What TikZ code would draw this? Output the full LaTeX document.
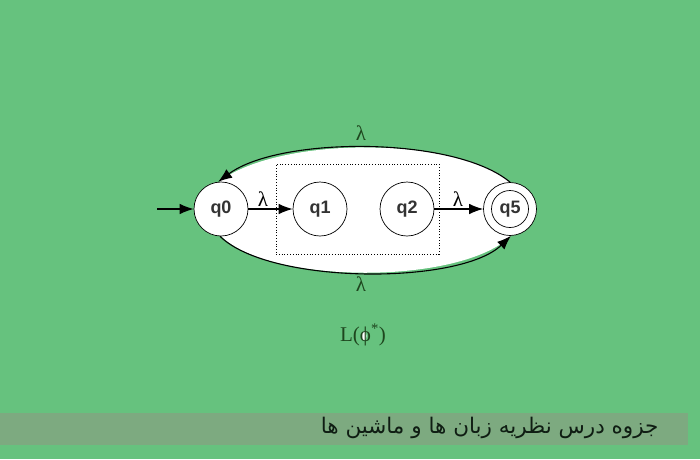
\documentclass[tikz,border=0pt]{standalone}
\usepackage{amsmath, amssymb}
\usepackage{xcolor}
\usepackage{fontspec}
\usepackage{tikz}
\usetikzlibrary{calc, arrows.meta}
\setsansfont{Liberation Sans}
\newfontfamily\greekfont{Liberation Serif}
\newfontfamily\arabicfont[Script=Arabic]{DejaVu Sans}
\TeXXeTstate=1
\definecolor{bggreen}{HTML}{66C27E}
\definecolor{bargreen}{HTML}{7DAA80}
\definecolor{textgreen}{HTML}{1E461E}
\definecolor{statetext}{HTML}{333333}

\begin{document}
\begin{tikzpicture}[x=1pt, y=-1pt,
	state/.style={draw, circle, fill=white, minimum size=54pt, inner sep=0pt, line width=0.7pt,
		font=\sffamily\bfseries\fontsize{18}{20}\selectfont, text=statetext},
	lbl/.style={font=\greekfont\fontsize{21}{23}\selectfont, text=textgreen},
	tip/.style={-{Latex[length=14pt, width=10.5pt]}, line width=1.1pt}]
					\def\yS{209};
					\def\xMAX{700};
					\def\yMAX{459};

					\begin{scope}
						\fill[bggreen] (0,0) rectangle (\xMAX,\yMAX);
						\fill[bargreen] (0,413) rectangle (688,445);
						\useasboundingbox (0,0) rectangle (\xMAX,\yMAX);
					\end{scope}

					\begin{scope}
						\coordinate (topL) at (220,181);
						\coordinate (topR) at (510,182);
						\coordinate (botL) at (221,236);
						\coordinate (botR) at (511,236);
						\fill[white] (topL) .. controls (280,136) and (455,136) .. (topR)
							-- (botR) .. controls (460,285) and (270,285) .. (botL) -- cycle;
						\fill[white] (364,336) ellipse (2.5pt and 4.5pt);
					\end{scope}

					\begin{scope}
						\node[state] (q0) at (221,\yS) {q0};
						\node[state] (q1) at (320,\yS) {q1};
						\node[state] (q2) at (407,\yS) {q2};
						\node[state, minimum size=53pt] (q5) at (510,\yS) {};
						\draw[line width=0.7pt] (q5) circle (18.5pt);
						\node[font=\sffamily\bfseries\fontsize{18}{20}\selectfont, text=statetext] (q5t) at (q5) {q5};
						\node[draw, dotted, line width=0.8pt, minimum width=163pt, minimum height=90pt] (box) at (357.5,209) {};
						\coordinate (start) at (157,\yS);
					\end{scope}

					\begin{scope}[tip]
						\draw (start) -- (q0);
						\draw (q0) -- (q1);
						\draw (q2) -- (q5);
						\draw (q5.90) .. controls (455,136) and (280,136) .. (q0.96);
						\draw (q0.-92) .. controls (270,285) and (460,285) .. (q5.-88);
					\end{scope}

					\begin{scope}
						\node[lbl, text=black] (l01) at (263,199) {λ};
						\node[lbl, text=black] (l25) at (458,199) {λ};
						\node[lbl] (ltop) at (361,133) {λ};
						\node[lbl] (lbot) at (361,284) {λ};
						\node[lbl] (lang) at (363,335) {L(ϕ\textsuperscript{*})};
						\node[anchor=east, text=black!85!bggreen, font=\fontsize{21.5}{25}\selectfont] (title) at (662,428)
							{\arabicfont\beginR جزوه درس نظریه زبان ها و ماشین ها\endR};
					\end{scope}
				\end{tikzpicture}
\end{document}
